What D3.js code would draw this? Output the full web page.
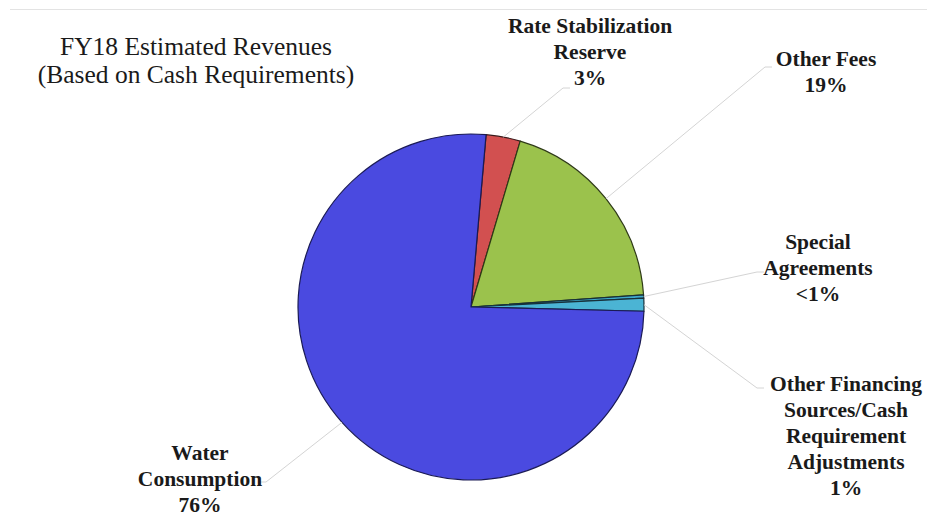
<!DOCTYPE html>
<html>
<head>
<meta charset="utf-8">
<script src="https://cdn.jsdelivr.net/npm/d3@7"></script>
<style>
  html, body { margin: 0; padding: 0; background: #ffffff; }
  svg { display: block; }
</style>
</head>
<body>
<div id="chart"></div>
<script>
// FY18 revenue sources, in percent of total, clockwise from the first slice
const categories = [
  "Rate Stabilization Reserve",
  "Other Fees",
  "Special Agreements",
  "Other Financing Sources/Cash Requirement Adjustments",
  "Water Consumption"
];
const values = [3.2, 19.3, 0.3, 1.2, 76.0];
const colors = ["#d25050", "#9bc24c", "#3fa9cc", "#4bb4d4", "#4a4ae0"];
const strokes = ["#3a1a1a", "#2e3a16", "#16303a", "#16303a", "#1a1a55"];
// label lines for each slice
const labelLines = [
  ["Rate Stabilization", "Reserve"],
  ["Other Fees"],
  ["Special", "Agreements"],
  ["Other Financing", "Sources/Cash", "Requirement", "Adjustments"],
  ["Water", "Consumption"]
];
const titleLines = ["FY18 Estimated Revenues", "(Based on Cash Requirements)"];

const width = 927, height = 519;
const cx = 471, cy = 307, radius = 173;
const startDeg = 5;

const svg = d3.select("#chart").append("svg")
  .attr("width", width).attr("height", height);

// faint frame line along the top
svg.append("line")
  .attr("x1", 10).attr("x2", width).attr("y1", 9.5).attr("y2", 9.5)
  .attr("stroke", "#e3e3e3").attr("stroke-width", 1);

// title
const title = svg.append("text")
  .attr("x", 196).attr("y", 55)
  .attr("text-anchor", "middle")
  .attr("font-family", "'Liberation Serif', 'Times New Roman', serif")
  .attr("font-size", 25.5)
  .attr("fill", "#1a1a1a");
titleLines.forEach((t, i) => {
  title.append("tspan").attr("x", 196).attr("dy", i === 0 ? 0 : 28).text(t);
});

const total = d3.sum(values);
const pie = d3.pie().sort(null).value(d => d)
  .startAngle(startDeg * Math.PI / 180)
  .endAngle((startDeg + 360) * Math.PI / 180);
const arcs = pie(values);
const arc = d3.arc().innerRadius(0).outerRadius(radius);

const g = svg.append("g").attr("transform", `translate(${cx},${cy})`);

// leader lines drawn under the slices
// label anchor (centre x, first baseline y) and the elbow end for each slice
const labelPos = [
  { x: 590, y: 33, ex: 563, ey: 88 },
  { x: 826, y: 66, ex: 765, ey: 67 },
  { x: 818, y: 249, ex: 757, ey: 272 },
  { x: 846, y: 391, ex: 757, ey: 388 },
  { x: 200, y: 460, ex: 266, ey: 482 }
];

const pointOnEdge = (a) => {
  const m = (a.startAngle + a.endAngle) / 2;
  return [cx + radius * Math.sin(m), cy - radius * Math.cos(m)];
};

arcs.forEach((a, i) => {
  const p = pointOnEdge(a);
  const lp = labelPos[i];
  const side = lp.ex > cx ? 1 : -1;
  svg.append("polyline")
    .attr("points", [[p[0], p[1]], [lp.ex, lp.ey], [lp.ex + side * 7, lp.ey]].map(q => q.join(",")).join(" "))
    .attr("fill", "none")
    .attr("stroke", "#d4d4d4")
    .attr("stroke-width", 1);
});

g.selectAll("path.slice")
  .data(arcs)
  .join("path")
  .attr("class", "slice")
  .attr("d", arc)
  .attr("fill", (d, i) => colors[i])
  .attr("stroke", (d, i) => strokes[i])
  .attr("stroke-width", 1.2)
  .attr("stroke-linejoin", "round");

// data labels: name lines plus percentage
const pctText = v => {
  const p = v / total * 100;
  return p < 1 ? "<1%" : Math.round(p) + "%";
};

arcs.forEach((a, i) => {
  const lp = labelPos[i];
  const lines = labelLines[i].concat([pctText(values[i])]);
  const t = svg.append("text")
    .attr("x", lp.x).attr("y", lp.y)
    .attr("text-anchor", "middle")
    .attr("font-family", "'Liberation Serif', 'Times New Roman', serif")
    .attr("font-weight", "bold")
    .attr("font-size", 21.5)
    .attr("fill", "#1a1a1a");
  lines.forEach((s, k) => {
    t.append("tspan").attr("x", lp.x).attr("dy", k === 0 ? 0 : 26).text(s);
  });
});
</script>
</body>
</html>
